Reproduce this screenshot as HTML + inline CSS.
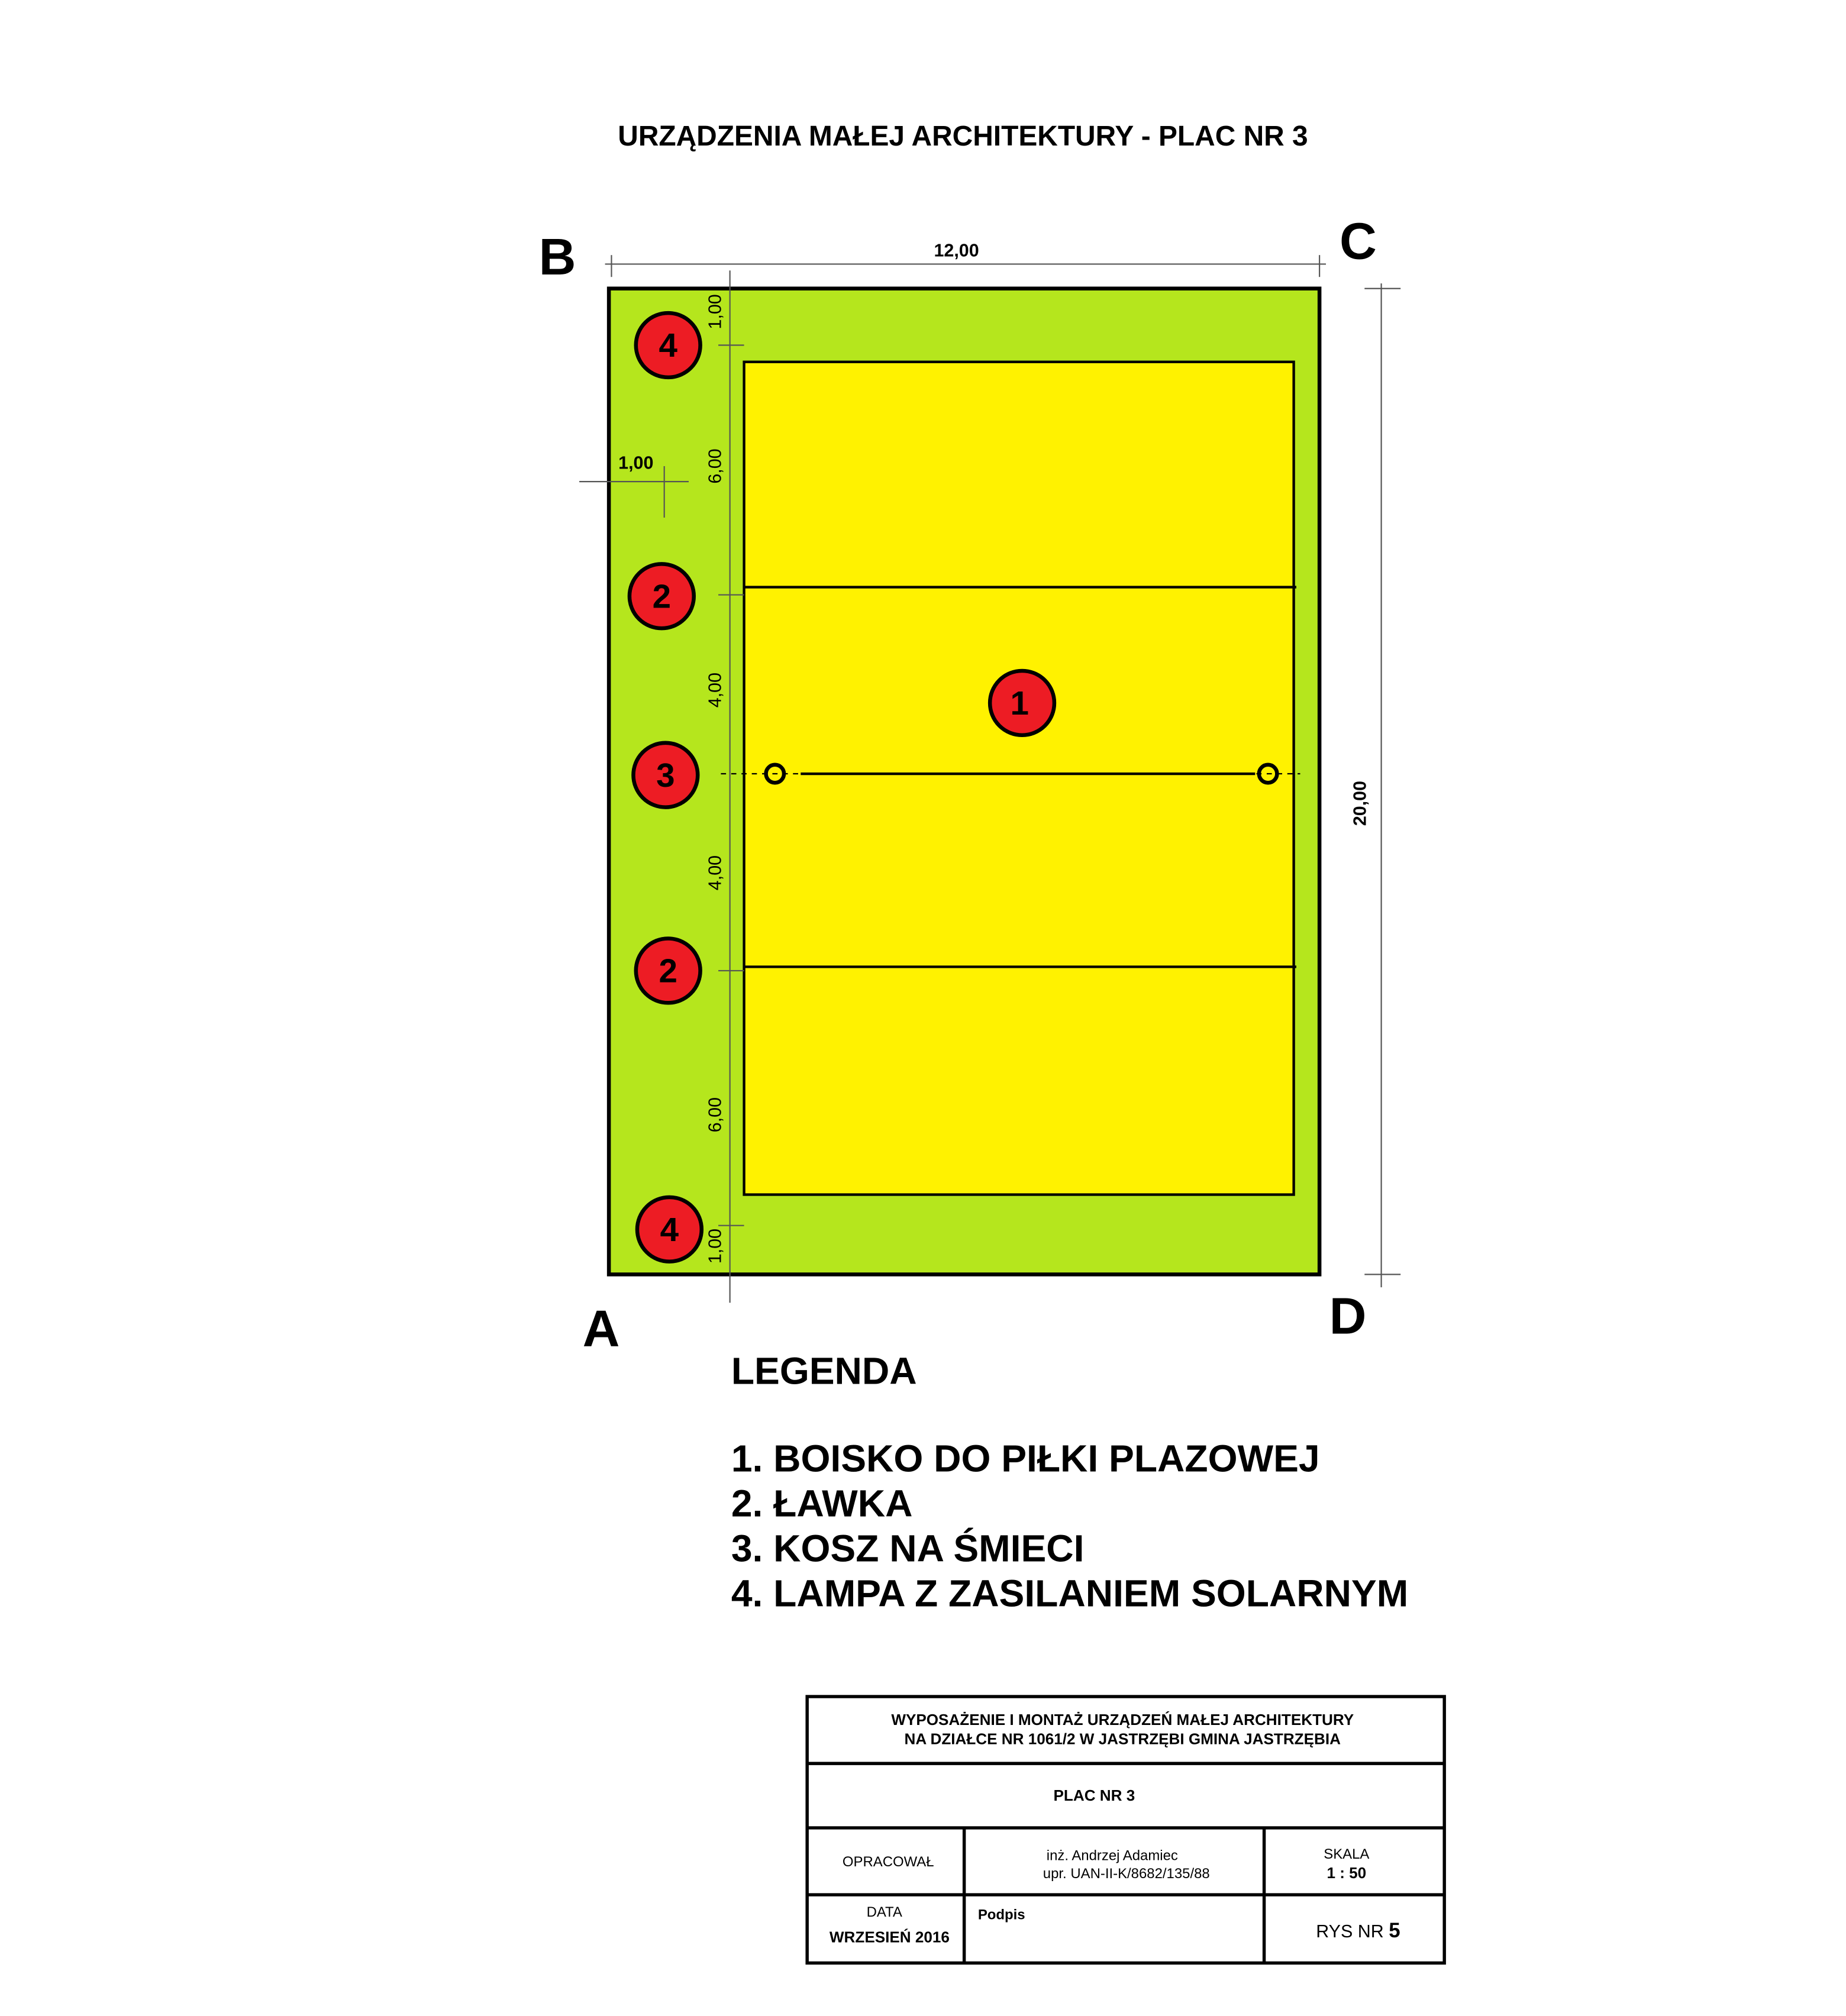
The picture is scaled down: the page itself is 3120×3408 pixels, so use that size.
<!DOCTYPE html>
<html><head><meta charset="utf-8"><style>html,body{margin:0;padding:0;background:#fff}svg{display:block}</style></head>
<body>
<svg width="3120" height="3408" viewBox="0 0 1434 1566" xmlns="http://www.w3.org/2000/svg" font-family="Liberation Sans, DejaVu Sans, sans-serif" font-weight="bold">
<rect width="1434" height="1566" fill="#fff"/>
<text x="748" y="113" font-size="22" text-anchor="middle">URZĄDZENIA MAŁEJ ARCHITEKTURY - PLAC NR 3</text>
<rect x="473" y="224" width="552" height="766" fill="#b5e61d" stroke="#000" stroke-width="3"/>
<rect x="578" y="281" width="427" height="647" fill="#fff200" stroke="#000" stroke-width="2"/>
<line x1="578" y1="456" x2="1007" y2="456" stroke="#000" stroke-width="2"/>
<line x1="578" y1="751" x2="1007" y2="751" stroke="#000" stroke-width="2"/>
<line x1="560" y1="601" x2="1010" y2="601" stroke="#000" stroke-width="1" stroke-dasharray="4 4"/>
<line x1="622" y1="601" x2="975" y2="601" stroke="#000" stroke-width="2"/>
<circle cx="602" cy="601" r="7" fill="none" stroke="#000" stroke-width="3"/>
<circle cx="985" cy="601" r="7" fill="none" stroke="#000" stroke-width="3"/>
<g stroke="#555" stroke-width="1" fill="none">
<line x1="470" y1="205" x2="1030" y2="205"/>
<line x1="475" y1="198" x2="475" y2="215"/><line x1="1025" y1="198" x2="1025" y2="215"/>
<line x1="567" y1="210" x2="567" y2="1012"/>
<line x1="558" y1="268" x2="578" y2="268"/><line x1="558" y1="462" x2="578" y2="462"/><line x1="558" y1="754" x2="578" y2="754"/><line x1="558" y1="952" x2="578" y2="952"/>
<line x1="1073" y1="220" x2="1073" y2="1000"/>
<line x1="1060" y1="224" x2="1088" y2="224"/><line x1="1060" y1="990" x2="1088" y2="990"/>
<line x1="450" y1="374" x2="535" y2="374"/><line x1="516" y1="362" x2="516" y2="402"/>
</g>
<g font-size="14" font-weight="normal" fill="#000">
<text x="743" y="199" text-anchor="middle" font-weight="bold">12,00</text>
<text x="494" y="364" text-anchor="middle" font-weight="bold">1,00</text>
<text transform="translate(560,242) rotate(-90)" text-anchor="middle">1,00</text>
<text transform="translate(560,362) rotate(-90)" text-anchor="middle">6,00</text>
<text transform="translate(560,536) rotate(-90)" text-anchor="middle">4,00</text>
<text transform="translate(560,678) rotate(-90)" text-anchor="middle">4,00</text>
<text transform="translate(560,866) rotate(-90)" text-anchor="middle">6,00</text>
<text transform="translate(560,968) rotate(-90)" text-anchor="middle">1,00</text>
<text transform="translate(1061,624) rotate(-90)" text-anchor="middle" font-weight="bold">20,00</text>
</g>
<g font-size="40">
<text x="433" y="213" text-anchor="middle">B</text>
<text x="1055" y="201" text-anchor="middle">C</text>
<text x="467" y="1046" text-anchor="middle">A</text>
<text x="1047" y="1036" text-anchor="middle">D</text>
</g>
<g fill="#ed1c24" stroke="#000" stroke-width="3">
<circle cx="519" cy="268" r="25"/><circle cx="514" cy="463" r="25"/><circle cx="517" cy="602" r="25"/><circle cx="519" cy="754" r="25"/><circle cx="520" cy="955" r="25"/><circle cx="794" cy="546" r="25"/>
</g>
<g font-size="26" text-anchor="middle">
<text x="519" y="277">4</text><text x="514" y="472">2</text><text x="517" y="611">3</text><text x="519" y="763">2</text><text x="520" y="964">4</text><text x="792" y="555">1</text>
</g>
<g font-size="29.5">
<text x="568" y="1075">LEGENDA</text>
<text x="568" y="1143">1. BOISKO DO PIŁKI PLAZOWEJ</text>
<text x="568" y="1178">2. ŁAWKA</text>
<text x="568" y="1213">3. KOSZ NA ŚMIECI</text>
<text x="568" y="1248">4. LAMPA Z ZASILANIEM SOLARNYM</text>
</g>
<g stroke="#000" stroke-width="2.5" fill="none">
<rect x="627" y="1318" width="495" height="207"/>
<line x1="627" y1="1370" x2="1122" y2="1370"/>
<line x1="627" y1="1420" x2="1122" y2="1420"/>
<line x1="627" y1="1472" x2="1122" y2="1472"/>
<line x1="749" y1="1420" x2="749" y2="1525"/>
<line x1="982" y1="1420" x2="982" y2="1525"/>
</g>
<g font-size="12" text-anchor="middle">
<text x="872" y="1340">WYPOSAŻENIE I MONTAŻ URZĄDZEŃ MAŁEJ ARCHITEKTURY</text>
<text x="872" y="1355">NA DZIAŁCE NR 1061/2 W JASTRZĘBI GMINA JASTRZĘBIA</text>
<text x="850" y="1399">PLAC NR 3</text>
<text x="690" y="1450" font-weight="normal" font-size="11">OPRACOWAŁ</text>
<text x="864" y="1445" font-weight="normal" font-size="11">inż. Andrzej Adamiec</text>
<text x="875" y="1459" font-weight="normal" font-size="11">upr. UAN-II-K/8682/135/88</text>
<text x="1046" y="1444" font-weight="normal" font-size="11">SKALA</text>
<text x="1046" y="1459">1 : 50</text>
<text x="687" y="1489" font-weight="normal" font-size="11">DATA</text>
<text x="691" y="1509">WRZESIEŃ 2016</text>
<text x="778" y="1491" font-size="11">Podpis</text>
<text x="1055" y="1505" font-size="14" font-weight="normal">RYS NR <tspan font-weight="bold" font-size="16">5</tspan></text>
</g>
</svg>
</body></html>
